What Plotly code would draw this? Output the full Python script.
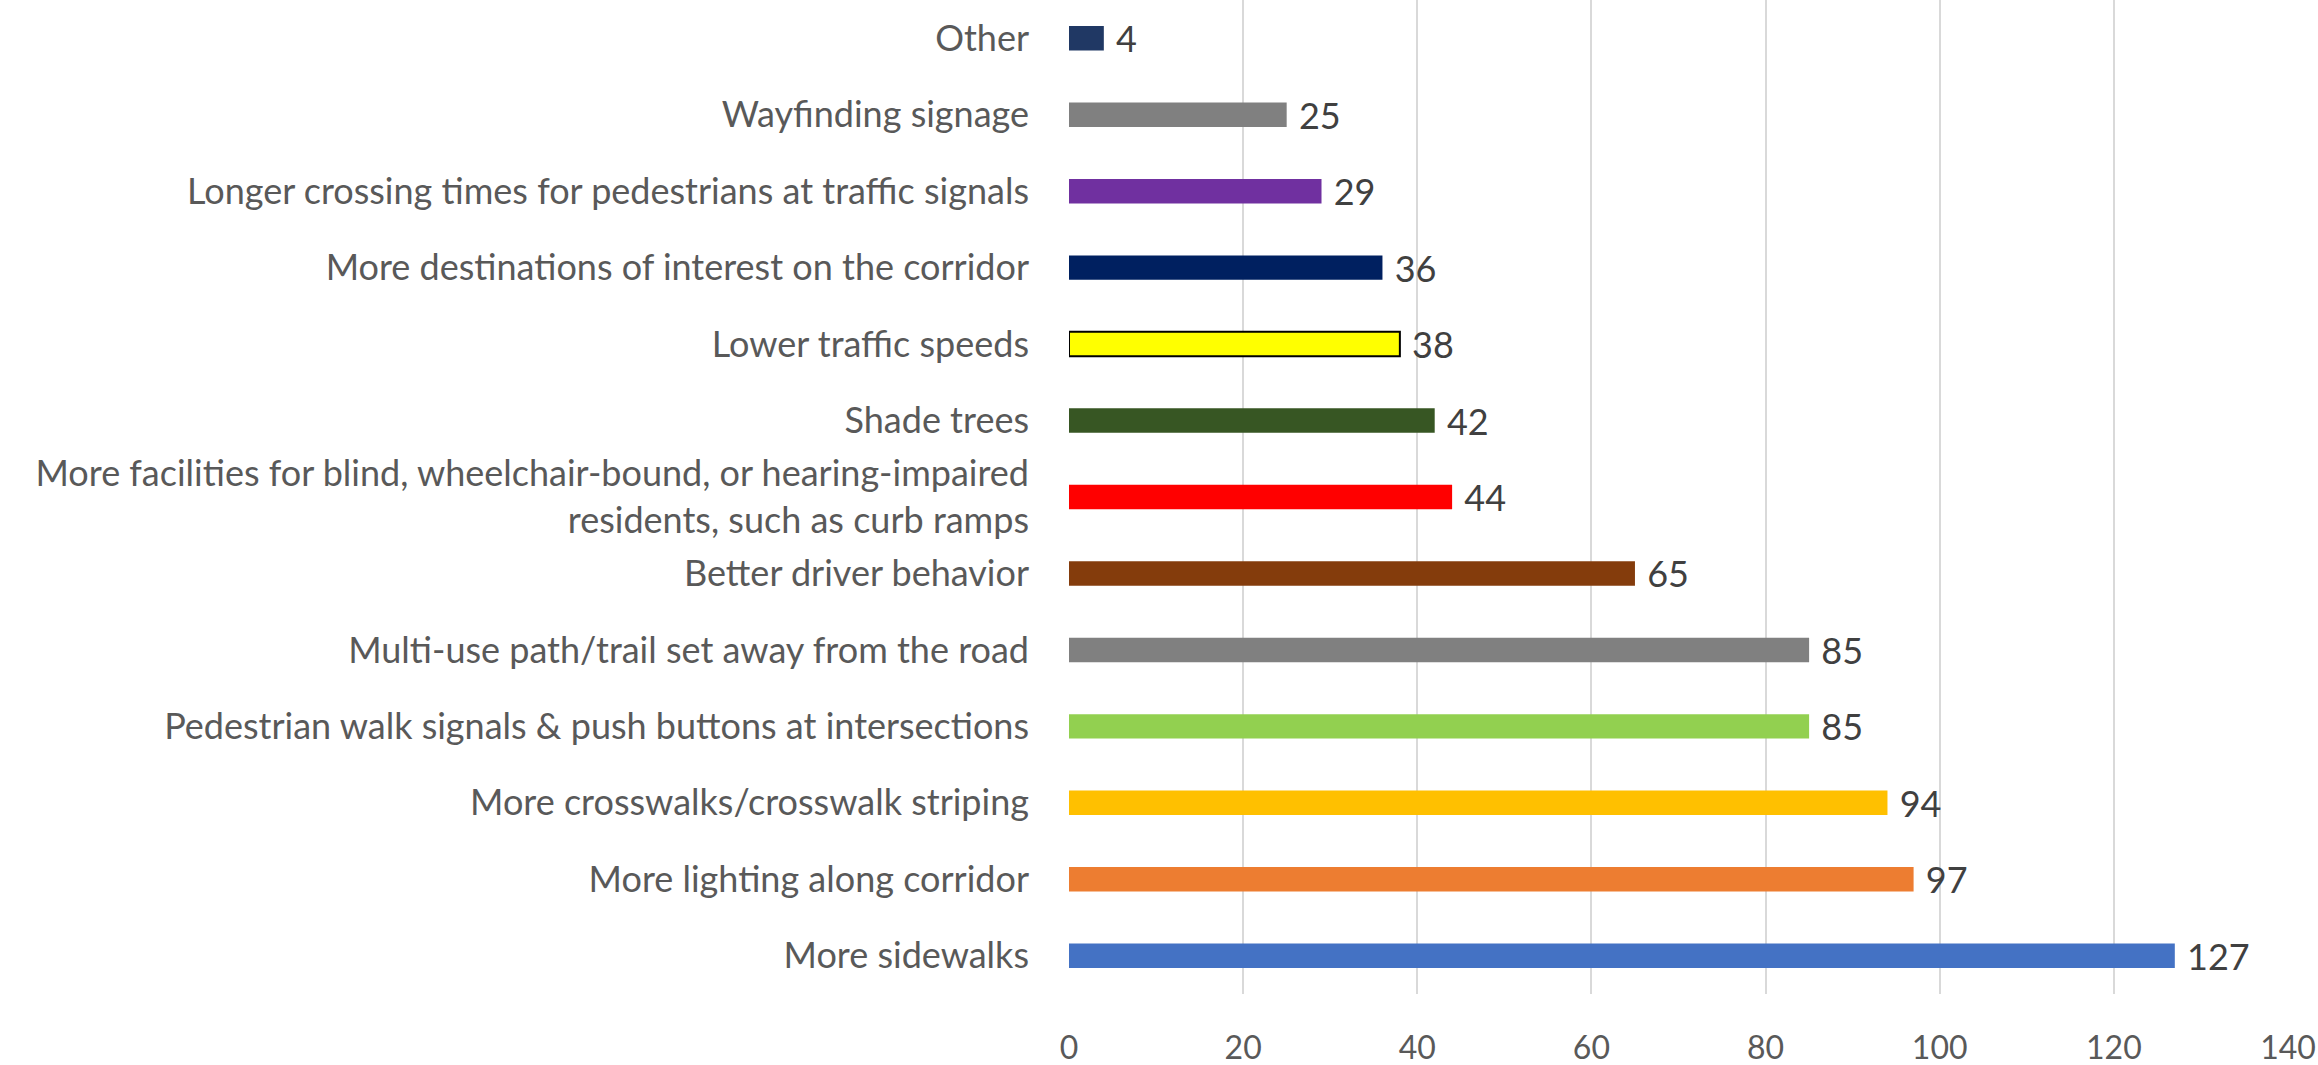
import plotly.graph_objects as go

# Survey responses, listed bottom to top
categories = [
    "More sidewalks",
    "More lighting along corridor",
    "More crosswalks/crosswalk striping",
    "Pedestrian walk signals & push buttons at intersections",
    "Multi-use path/trail set away from the road",
    "Better driver behavior",
    "More facilities for blind, wheelchair-bound, or hearing-impaired<br>residents, such as curb ramps",
    "Shade trees",
    "Lower traffic speeds",
    "More destinations of interest on the corridor",
    "Longer crossing times for pedestrians at traffic signals",
    "Wayfinding signage",
    "Other",
]
counts = [127, 97, 94, 85, 85, 65, 44, 42, 38, 36, 29, 25, 4]
bar_colors = [
    "#4472c4", "#ed7d31", "#ffc000", "#92d050", "#808080", "#843c0c",
    "#ff0000", "#375623", "#ffff00", "#002060", "#7030a0", "#808080", "#203864",
]
outline_widths = [0, 0, 0, 0, 0, 0, 0, 0, 2, 0, 0, 0, 0]

FONT = "Lato"
FS = 36

fig = go.Figure(go.Bar(
    x=counts,
    y=categories,
    orientation="h",
    width=0.32,
    marker=dict(color=bar_colors,
                line=dict(color="black", width=outline_widths)),
    text=counts,
    texttemplate="\u00a0%{x}",
    textposition="outside",
    constraintext="none",
    textfont=dict(family=FONT, size=FS, color="#404040"),
    cliponaxis=False,
))

fig.update_layout(
    width=2318, height=1065,
    margin=dict(l=1069, r=30, t=0, b=71, autoexpand=False),
    plot_bgcolor="white", paper_bgcolor="white",
    showlegend=False,
    font=dict(family=FONT, size=FS, color="#595959"),
    xaxis=dict(range=[0, 140], dtick=20, showgrid=True, gridcolor="#d9d9d9",
               gridwidth=1.5, zeroline=False, showline=False,
               ticklabelstandoff=32, ticklabeloverflow="allow",
               tickfont=dict(family=FONT, size=32, color="#595959")),
    yaxis=dict(range=[-0.5, 12.5], showgrid=False, zeroline=False,
               showline=False, ticklabelstandoff=39,
               tickfont=dict(family=FONT, size=FS, color="#595959")),
)

# drop the default body margin so the figure fills the window exactly
fig.write_html("out.html",
               config={"displayModeBar": False},
               post_script="document.body.style.margin='0';document.body.style.overflow='hidden';")
